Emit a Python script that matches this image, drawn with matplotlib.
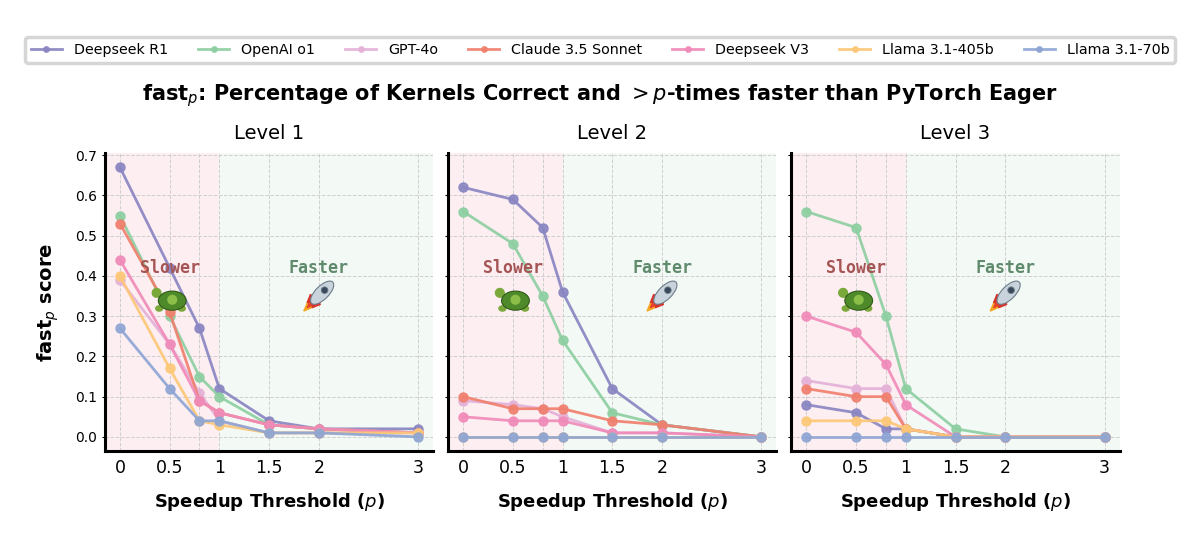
import matplotlib.pyplot as plt
from matplotlib.offsetbox import AnnotationBbox, DrawingArea
from matplotlib.patches import Ellipse, Circle, Polygon
import numpy as np

# speedup thresholds
p_values = [0, 0.5, 0.8, 1, 1.5, 2, 3]
models = ['Deepseek R1', 'OpenAI o1', 'GPT-4o', 'Claude 3.5 Sonnet', 'Deepseek V3', 'Llama 3.1-405b', 'Llama 3.1-70b']
colors = ['#8a86c2', '#8ecfa2', '#e4b2d8', '#f0806e', '#f08bb9', '#fcc878', '#8fa6d4']
levels = ['Level 1', 'Level 2', 'Level 3']

# fast_p scores, level 1
level1_r1 = [0.67, 0.42, 0.27, 0.12, 0.04, 0.02, 0.02]
level1_o1 = [0.55, 0.30, 0.15, 0.10, 0.03, 0.02, 0.01]
level1_4o = [0.39, 0.23, 0.11, 0.04, 0.01, 0.01, 0.01]
level1_claude = [0.53, 0.31, 0.09, 0.06, 0.03, 0.02, 0.01]
level1_v3 = [0.44, 0.23, 0.09, 0.06, 0.03, 0.02, 0.01]
level1_405b = [0.40, 0.17, 0.04, 0.03, 0.01, 0.01, 0.01]
level1_70b = [0.27, 0.12, 0.04, 0.04, 0.01, 0.01, 0.00]

# level 2
level2_r1 = [0.62, 0.59, 0.52, 0.36, 0.12, 0.03, 0.00]
level2_o1 = [0.56, 0.48, 0.35, 0.24, 0.06, 0.03, 0.00]
level2_4o = [0.09, 0.08, 0.07, 0.05, 0.01, 0.01, 0.00]
level2_claude = [0.10, 0.07, 0.07, 0.07, 0.04, 0.03, 0.00]
level2_v3 = [0.05, 0.04, 0.04, 0.04, 0.01, 0.01, 0.00]
level2_405b = [0.00, 0.00, 0.00, 0.00, 0.00, 0.00, 0.00]
level2_70b = [0.00, 0.00, 0.00, 0.00, 0.00, 0.00, 0.00]

# level 3
level3_r1 = [0.08, 0.06, 0.02, 0.02, 0.00, 0.00, 0.00]
level3_o1 = [0.56, 0.52, 0.30, 0.12, 0.02, 0.00, 0.00]
level3_4o = [0.14, 0.12, 0.12, 0.02, 0.00, 0.00, 0.00]
level3_claude = [0.12, 0.10, 0.10, 0.02, 0.00, 0.00, 0.00]
level3_v3 = [0.30, 0.26, 0.18, 0.08, 0.00, 0.00, 0.00]
level3_405b = [0.04, 0.04, 0.04, 0.02, 0.00, 0.00, 0.00]
level3_70b = [0.00, 0.00, 0.00, 0.00, 0.00, 0.00, 0.00]

all_levels = [
    [level1_r1, level1_o1, level1_4o, level1_claude, level1_v3, level1_405b, level1_70b],
    [level2_r1, level2_o1, level2_4o, level2_claude, level2_v3, level2_405b, level2_70b],
    [level3_r1, level3_o1, level3_4o, level3_claude, level3_v3, level3_405b, level3_70b],
]


def turtle_icon(k=1.25):
    # little stand-in for the turtle emoji (no colour emoji font available)
    da = DrawingArea(22 * k, 16 * k, 0, 0)
    da.add_artist(Ellipse((3.5 * k, 11 * k), 5 * k, 5 * k, color='#7aa83a'))
    da.add_artist(Ellipse((5 * k, 2 * k), 4 * k, 3 * k, color='#7aa83a'))
    da.add_artist(Ellipse((18 * k, 2 * k), 4 * k, 3 * k, color='#7aa83a'))
    da.add_artist(Ellipse((12.5 * k, 6.5 * k), 16 * k, 11 * k, facecolor='#4f8a2a', edgecolor='#2f5a18', lw=0.8))
    da.add_artist(Circle((12.5 * k, 7 * k), 2.5 * k, color='#8cbf4a'))
    return da


def rocket_icon(k=1.2):
    # little stand-in for the rocket emoji
    da = DrawingArea(22 * k, 22 * k, 0, 0)
    da.add_artist(Polygon(np.array([[2, 2], [9, 5], [5, 9]]) * k, color='#f5a623'))
    da.add_artist(Polygon(np.array([[4, 4], [8, 6], [6, 8]]) * k, color='#e8402a'))
    da.add_artist(Polygon(np.array([[6, 12], [4, 7], [10, 8]]) * k, color='#d9342b'))
    da.add_artist(Polygon(np.array([[12, 6], [7, 4], [8, 10]]) * k, color='#d9342b'))
    da.add_artist(Ellipse((13 * k, 13 * k), 18 * k, 8 * k, angle=45, facecolor='#c9d3dc', edgecolor='#6d7c8a', lw=0.8))
    da.add_artist(Circle((14.5 * k, 14.5 * k), 2 * k, facecolor='#3a4a5a', edgecolor='#6d7c8a', lw=0.6))
    return da


fig, axes = plt.subplots(1, 3, figsize=(12, 5.45), dpi=100, sharey=True)
plt.subplots_adjust(left=0.0875, right=0.933, bottom=0.1725, top=0.719, wspace=0.046)

xmin, xmax = -0.15, 3.15
for ax, level, data in zip(axes, levels, all_levels):
    ax.axvspan(xmin, 1, color='#fdeef2', zorder=0)
    ax.axvspan(1, xmax, color='#f3f9f5', zorder=0)
    for name, vals, c in zip(models, data, colors):
        ax.plot(p_values, vals, '-o', color=c, lw=2, ms=6.5, alpha=0.92, label=name, zorder=3)
    ax.set_xlim(xmin, xmax)
    ax.set_ylim(-0.035, 0.705)
    ax.set_xticks(p_values)
    ax.set_xticklabels(['0', '0.5', '', '1', '1.5', '2', '3'], fontsize=12.5)
    ax.set_yticks(np.arange(0, 0.71, 0.1))
    ax.tick_params(axis='y', labelsize=10, length=2)
    ax.tick_params(axis='x', length=0, pad=6)
    ax.grid(True, linestyle='--', color='#cfcfcf', lw=0.7, zorder=1)
    ax.set_axisbelow(True)
    for s in ['top', 'right']:
        ax.spines[s].set_visible(False)
    for s in ['left', 'bottom']:
        ax.spines[s].set_linewidth(2.2)
    ax.set_title(level, fontsize=14, pad=10)
    ax.set_xlabel('Speedup Threshold ($p$)', fontsize=13, fontweight='bold', labelpad=10)
    ax.text(0.5, 0.42, 'Slower', family='DejaVu Sans Mono', fontweight='bold', fontsize=12,
            color='#a65555', ha='center', va='center', zorder=4)
    ax.text(2.0, 0.42, 'Faster', family='DejaVu Sans Mono', fontweight='bold', fontsize=12,
            color='#5f8a6c', ha='center', va='center', zorder=4)
    ax.add_artist(AnnotationBbox(turtle_icon(), (0.5, 0.345), frameon=False, zorder=4))
    ax.add_artist(AnnotationBbox(rocket_icon(), (2.0, 0.35), frameon=False, zorder=4))

axes[0].set_ylabel('fast$_p$ score', fontsize=14, fontweight='bold', labelpad=10)

handles, labels = axes[0].get_legend_handles_labels()
leg = fig.legend(handles, labels, loc='upper center', ncol=7, bbox_to_anchor=(0.5, 0.945),
                 fontsize=10.3, frameon=True, fancybox=True, markerscale=0.6, columnspacing=2.1,
                 handlelength=2.2)
leg.get_frame().set_edgecolor('#cccccc')
leg.get_frame().set_linewidth(2.5)

fig.text(0.5, 0.825, 'fast$_p$: Percentage of Kernels Correct and $>p$-times faster than PyTorch Eager',
         ha='center', va='center', fontsize=15, fontweight='bold')

plt.savefig('out.png', dpi=100)
